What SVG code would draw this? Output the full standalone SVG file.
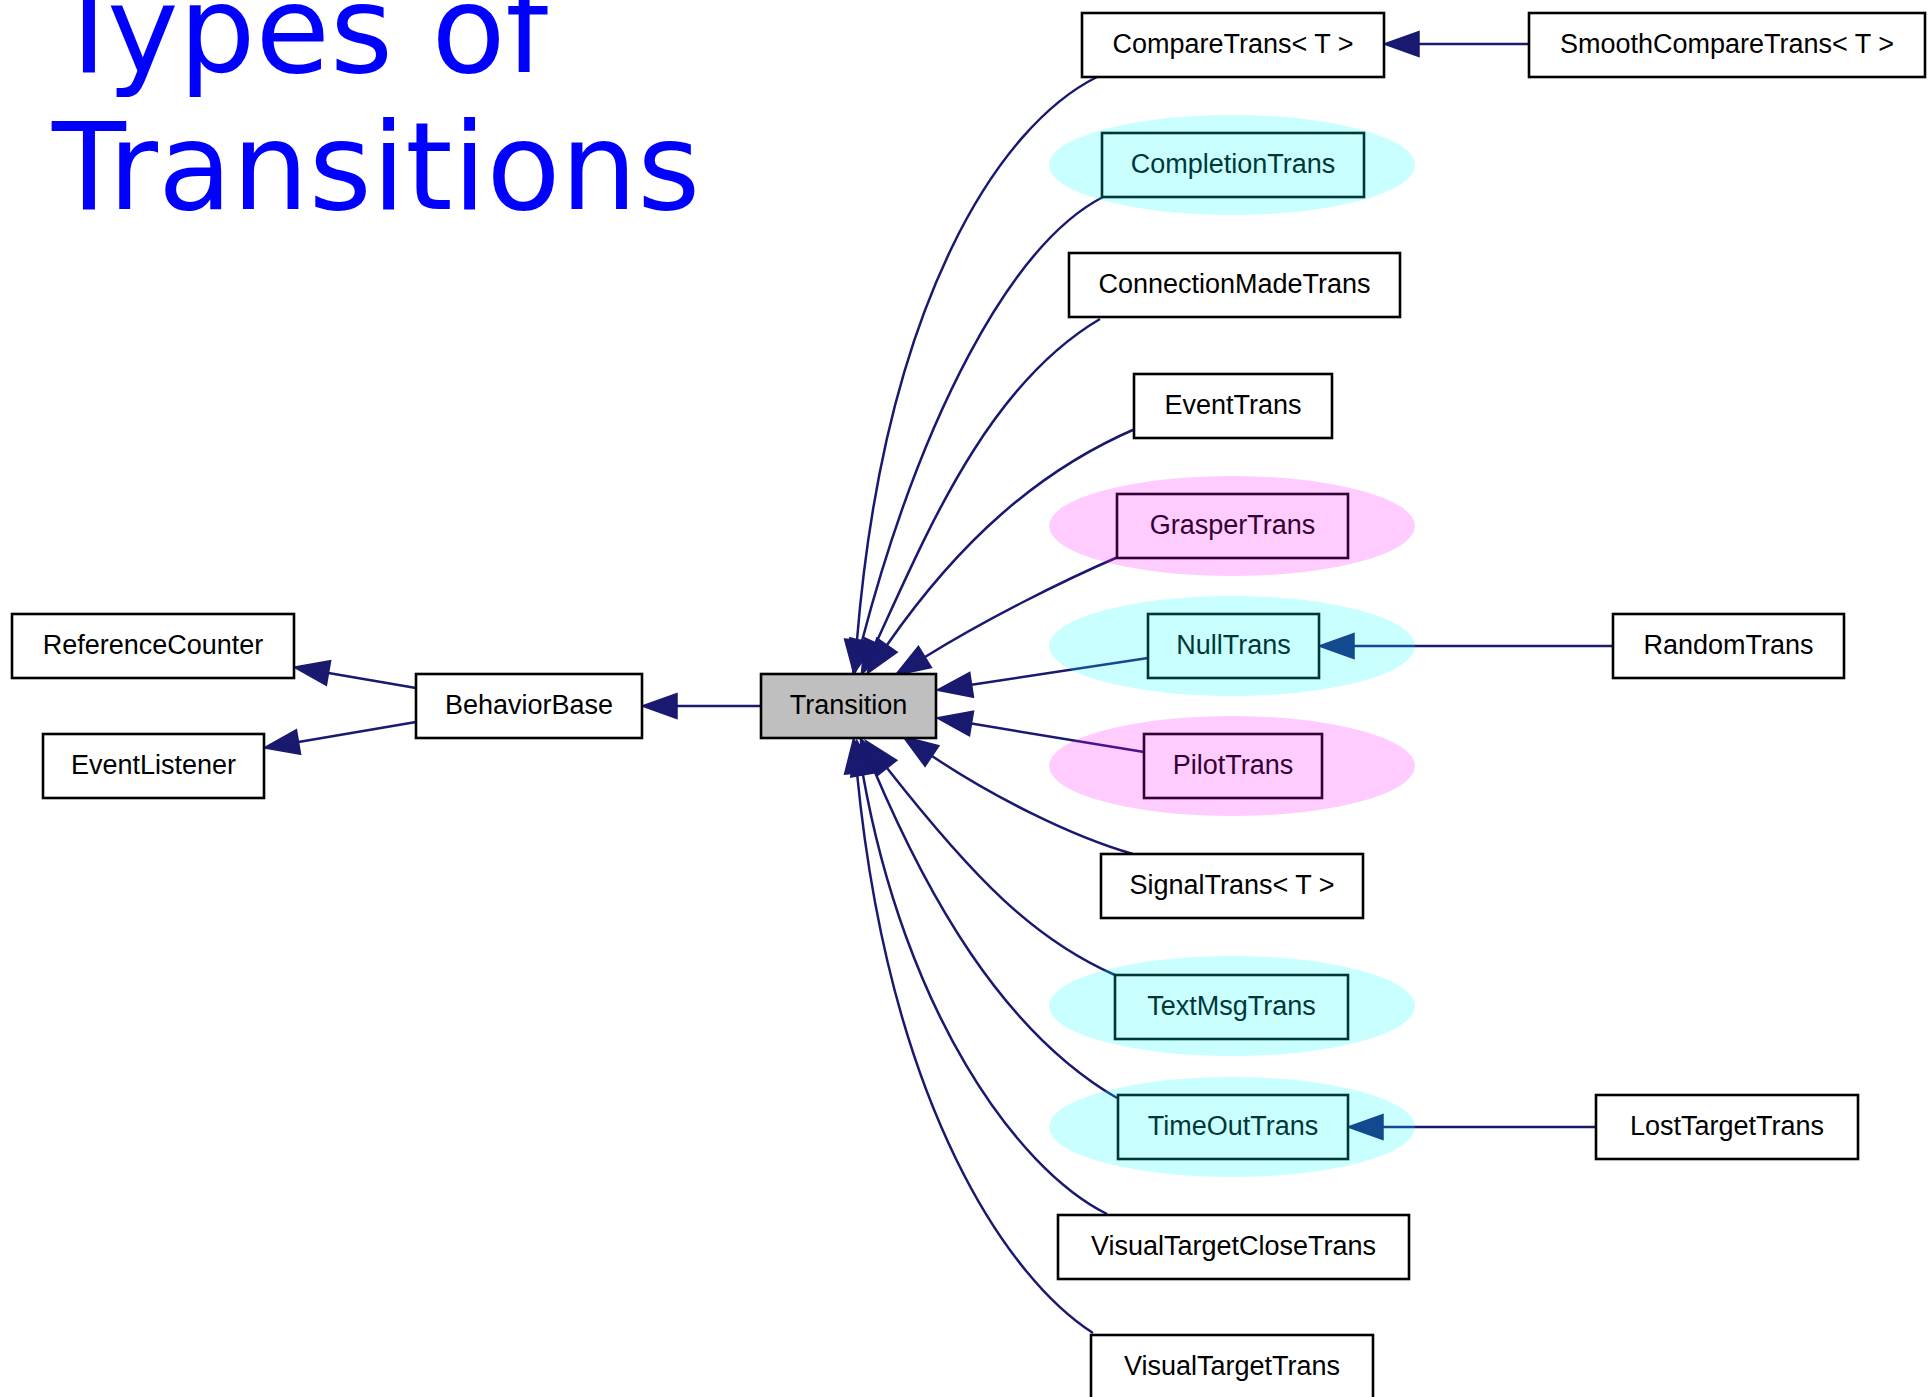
<svg xmlns="http://www.w3.org/2000/svg" width="1929" height="1397" viewBox="0 0 1929 1397">
<style>
.node rect{fill:#ffffff;stroke:#000000;stroke-width:2.6}
.node text{font-family:"Liberation Sans",Arial,Helvetica,sans-serif;font-size:27px;fill:#000000;text-anchor:middle}
#n-Transition rect{fill:#bfbfbf}
.edges path{fill:none;stroke:#191970;stroke-width:2.5;marker-end:url(#arr)}
.title{font-family:"DejaVu Sans",Verdana,sans-serif;font-size:121px;fill:#0000ff}
.hl-c{fill:#00ffff;fill-opacity:0.21}
.hl-m{fill:#ff00ff;fill-opacity:0.2}
</style>
<defs>
<marker id="arr" markerUnits="userSpaceOnUse" markerWidth="40" markerHeight="30" refX="0" refY="0" orient="auto" overflow="visible">
<path d="M0,-12.5 L35,0 L0,12.5 Z" fill="#191970" stroke="#191970" stroke-width="1.5"/>
</marker>
</defs>
<rect x="0" y="0" width="1929" height="1397" fill="#ffffff"/>
<text class="title" x="52" y="72">Types of</text>
<text class="title" x="52" y="209">Transitions</text>

<g id="connectors" class="edges">
<path d="M1529,44 L1419,44"/>
<path d="M1613,646 L1354,646"/>
<path d="M1596,1127 L1383,1127"/>
<path d="M761,706 L677,706"/>
<path d="M416,688 L328.5,673"/>
<path d="M416,722 L298.5,742"/>
<path d="M1097,77 C1000,125 885,300 857,640"/>
<path d="M1103,197 C1010,245 920,420 862,641"/>
<path d="M1100,319 C988,385 928,530 876,643"/>
<path d="M1135,429 C1040,470 960,540 887,645"/>
<path d="M1118,557 C1060,582 985,620 925,657"/>
<path d="M1148,658 L971.6,684.8"/>
<path d="M1144,752 L971.5,723.6"/>
<path d="M1133,854 C1070,836 990,795 932,756"/>
<path d="M1115,975 C1035,940 975,880 887,768"/>
<path d="M1117,1098 C1000,1030 925,890 874,770"/>
<path d="M1107,1214 C1015,1168 905,1010 863,775"/>
<path d="M1093,1333 C1010,1280 890,1110 857,773"/>
</g>

<g id="n-CompareTrans" class="node"><rect x="1082" y="13" width="302" height="64"/><text x="1233" y="53">CompareTrans&lt; T &gt;</text></g>
<g id="n-SmoothCompareTrans" class="node"><rect x="1529" y="13" width="396" height="64"/><text x="1727" y="53">SmoothCompareTrans&lt; T &gt;</text></g>
<g id="n-CompletionTrans" class="node"><rect x="1102" y="133" width="262" height="64"/><text x="1233" y="173">CompletionTrans</text></g>
<g id="n-ConnectionMadeTrans" class="node"><rect x="1069" y="253" width="331" height="64"/><text x="1234.5" y="293">ConnectionMadeTrans</text></g>
<g id="n-EventTrans" class="node"><rect x="1134" y="374" width="198" height="64"/><text x="1233" y="414">EventTrans</text></g>
<g id="n-GrasperTrans" class="node"><rect x="1117" y="494" width="231" height="64"/><text x="1232.5" y="534">GrasperTrans</text></g>
<g id="n-NullTrans" class="node"><rect x="1148" y="614" width="171" height="64"/><text x="1233.5" y="654">NullTrans</text></g>
<g id="n-RandomTrans" class="node"><rect x="1613" y="614" width="231" height="64"/><text x="1728.5" y="654">RandomTrans</text></g>
<g id="n-PilotTrans" class="node"><rect x="1144" y="734" width="178" height="64"/><text x="1233" y="774">PilotTrans</text></g>
<g id="n-SignalTrans" class="node"><rect x="1101" y="854" width="262" height="64"/><text x="1232" y="894">SignalTrans&lt; T &gt;</text></g>
<g id="n-TextMsgTrans" class="node"><rect x="1115" y="975" width="233" height="64"/><text x="1231.5" y="1015">TextMsgTrans</text></g>
<g id="n-TimeOutTrans" class="node"><rect x="1118" y="1095" width="230" height="64"/><text x="1233" y="1135">TimeOutTrans</text></g>
<g id="n-LostTargetTrans" class="node"><rect x="1596" y="1095" width="262" height="64"/><text x="1727" y="1135">LostTargetTrans</text></g>
<g id="n-VisualTargetCloseTrans" class="node"><rect x="1058" y="1215" width="351" height="64"/><text x="1233.5" y="1255">VisualTargetCloseTrans</text></g>
<g id="n-VisualTargetTrans" class="node"><rect x="1091" y="1335" width="282" height="64"/><text x="1232" y="1375">VisualTargetTrans</text></g>
<g id="n-Transition" class="node"><rect x="761" y="674" width="175" height="64"/><text x="848.5" y="714">Transition</text></g>
<g id="n-BehaviorBase" class="node"><rect x="416" y="674" width="226" height="64"/><text x="529" y="714">BehaviorBase</text></g>
<g id="n-ReferenceCounter" class="node"><rect x="12" y="614" width="282" height="64"/><text x="153" y="654">ReferenceCounter</text></g>
<g id="n-EventListener" class="node"><rect x="43" y="734" width="221" height="64"/><text x="153.5" y="774">EventListener</text></g>

<g id="highlights">
<ellipse class="hl-c" cx="1232" cy="165" rx="183" ry="50"/>
<ellipse class="hl-m" cx="1232" cy="526" rx="183" ry="50"/>
<ellipse class="hl-c" cx="1232" cy="646" rx="183" ry="50"/>
<ellipse class="hl-m" cx="1232" cy="766" rx="183" ry="50"/>
<ellipse class="hl-c" cx="1232" cy="1006" rx="183" ry="50"/>
<ellipse class="hl-c" cx="1232" cy="1127" rx="183" ry="50"/>
</g>
</svg>
